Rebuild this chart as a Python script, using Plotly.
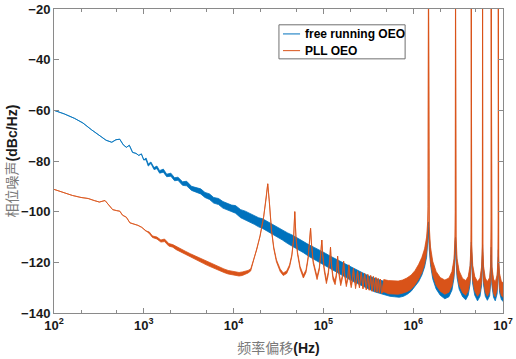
import plotly.graph_objects as go

# ---------------- data ----------------
# Free running OEO: frequency offset (Hz), upper / lower edge of the noisy trace (dBc/Hz)
free_freq = [100, 130, 170, 210, 260, 320, 380, 440, 490, 540, 590, 640, 690, 750, 820, 880, 940,
             1000, 1060, 1120, 1200, 1300, 1400, 1500, 1650, 1800, 2000, 2200, 2400, 2700, 3000,
             3400, 3800, 4300, 4800, 5400, 6000, 6800, 7600, 8500, 9500, 10500, 12000, 13500,
             15000, 17000, 19000, 21000, 24000, 27000, 31000, 35000, 40000, 46000, 52000, 60000,
             70000, 80000, 92000, 105000, 120000, 140000, 160000, 185000, 210000, 240000, 280000,
             320000, 370000, 420000, 480000, 550000, 620000, 700000, 780000, 860000, 950000,
             1050000, 1150000, 1250000, 1340000, 1410000, 1450000, 1480000, 1510000, 1560000,
             1650000, 1800000, 2000000, 2250000, 2500000, 2700000, 2850000, 2930000, 2960000,
             2990000, 3080000, 3250000, 3550000, 3850000, 4100000, 4300000, 4400000, 4440000,
             4480000, 4600000, 4850000, 5200000, 5550000, 5780000, 5880000, 5920000, 5960000,
             6080000, 6350000, 6700000, 7100000, 7300000, 7380000, 7400000, 7430000, 7520000,
             7850000, 8200000, 8600000, 8800000, 8880000, 8950000, 9150000, 9600000, 10000000]
free_upper = [-60.0, -61.4, -63.2, -65.0, -67.6, -70.0, -71.8, -72.6, -71.6, -71.4, -73.6, -74.6,
              -73.8, -76.6, -77.0, -77.8, -77.2, -79.6, -78.8, -81.2, -80.4, -82.6, -82.0, -83.8,
              -83.2, -85.2, -84.8, -86.6, -86.4, -88.2, -88.0, -90.0, -90.6, -91.0, -92.4, -93.0,
              -94.4, -94.8, -96.0, -96.6, -97.4, -97.6, -99.2, -99.8, -100.6, -101.4, -102.4,
              -102.8, -104.0, -104.8, -106.0, -107.2, -108.4, -109.4, -110.6, -111.8, -113.2,
              -114.2, -115.2, -116.4, -117.6, -118.8, -120.0, -121.2, -122.2, -123.2, -124.4,
              -125.4, -126.2, -127.0, -127.6, -128.0, -128.2, -128.2, -127.8, -127.0, -125.8,
              -124.0, -121.6, -118.8, -115.6, -112.0, -108.0, -104.0, -110.0, -116.0, -121.0,
              -125.0, -127.4, -128.4, -127.6, -125.0, -120.0, -114.0, -110.0, -114.0, -120.0,
              -124.6, -127.6, -128.6, -127.0, -122.6, -116.0, -112.0, -116.0, -122.6, -127.0,
              -129.0, -127.6, -123.0, -117.0, -113.0, -117.0, -123.0, -127.6, -129.0, -127.4,
              -122.0, -118.0, -114.0, -118.0, -123.0, -128.0, -129.2, -126.4, -120.0, -115.0,
              -120.0, -125.8, -129.0, -129.6]
free_lower = [-60.0, -61.4, -63.2, -65.0, -67.6, -70.0, -71.8, -72.6, -71.6, -71.4, -73.6, -74.6,
              -73.8, -76.6, -77.0, -77.8, -77.2, -79.6, -79.5, -82.0, -81.0, -83.4, -83.0, -84.8,
              -84.4, -86.2, -86.0, -87.8, -87.6, -89.6, -89.8, -91.6, -92.2, -93.0, -94.4, -95.2,
              -96.6, -97.2, -98.6, -99.4, -100.2, -100.6, -102.4, -103.2, -104.0, -105.0, -106.0,
              -106.6, -107.8, -108.8, -110.0, -111.2, -112.6, -113.8, -115.0, -116.2, -117.8,
              -119.0, -120.2, -121.4, -122.6, -124.0, -125.2, -126.4, -127.4, -128.4, -129.6,
              -130.6, -131.6, -132.2, -132.8, -133.4, -133.6, -133.8, -133.4, -132.6, -131.4,
              -129.6, -127.6, -125.0, -121.8, -118.0, -113.0, -108.0, -115.0, -121.0, -126.5,
              -130.5, -133.0, -134.4, -133.6, -131.0, -126.0, -119.0, -113.0, -119.0, -126.0,
              -130.6, -133.6, -134.8, -133.0, -128.6, -121.0, -115.0, -121.0, -128.6, -133.0,
              -135.2, -133.4, -129.0, -122.0, -116.0, -122.0, -129.0, -133.4, -135.0, -133.2,
              -128.0, -122.0, -117.0, -122.0, -129.0, -133.8, -135.2, -132.4, -125.0, -118.0,
              -125.0, -131.8, -134.8, -135.4]

# PLL OEO
pll_freq = [100, 130, 160, 200, 240, 280, 320, 370, 410, 450, 500, 540, 580, 640, 700, 780, 860,
            950, 1050, 1150, 1250, 1400, 1550, 1700, 1900, 2100, 2300, 2600, 2900, 3300, 3700,
            4100, 4600, 5100, 5700, 6300, 7000, 7800, 8700, 9600, 10500, 11500, 12500, 13500,
            14500, 15500, 16600, 18100, 19700, 21600, 23000, 24000, 25000, 26400, 28000, 30000,
            33000, 35700, 39000, 42000, 44500, 46500, 48000, 49500, 51500, 55000, 59800, 64000,
            67500, 70500, 72000, 73500, 77000, 85000, 90000, 93500, 96000, 98500, 102000, 108000,
            113000, 117500, 120000, 122500, 128000, 135000, 140000, 144000, 148000, 156000,
            163000, 168000, 172000, 180000, 187000, 192000, 197000, 204000, 211000, 216000,
            221000, 228000, 235000, 240000, 252000, 264000, 276000, 288000, 300000, 312000,
            324000, 336000, 348000, 360000, 372000, 384000, 396000, 408000, 420000, 432000,
            444000, 470000, 530000, 600000, 680000, 760000, 850000, 950000, 1050000, 1150000,
            1250000, 1340000, 1410000, 1450000, 1465000, 1480000, 1495000, 1510000, 1560000,
            1650000, 1800000, 2000000, 2250000, 2500000, 2700000, 2850000, 2920000, 2945000,
            2960000, 2975000, 3000000, 3080000, 3250000, 3550000, 3850000, 4100000, 4300000,
            4400000, 4425000, 4440000, 4455000, 4480000, 4600000, 4850000, 5200000, 5550000,
            5780000, 5880000, 5900000, 5920000, 5940000, 5960000, 6080000, 6350000, 6700000,
            7100000, 7300000, 7370000, 7385000, 7400000, 7415000, 7430000, 7520000, 7850000,
            8200000, 8600000, 8800000, 8860000, 8880000, 8900000, 8950000, 9150000, 9600000,
            10000000]
pll_upper = [-91.2, -92.6, -93.6, -94.4, -94.8, -95.6, -96.2, -95.6, -97.6, -99.2, -99.6, -99.8,
             -101.4, -102.2, -104.4, -104.8, -105.4, -106.2, -107.6, -108.0, -109.6, -110.0,
             -111.2, -110.8, -112.6, -113.0, -113.8, -114.6, -115.6, -116.6, -117.4, -118.0,
             -119.0, -119.8, -120.6, -121.2, -122.0, -122.6, -123.2, -123.4, -123.8, -124.0,
             -123.8, -123.6, -123.2, -122.6, -119.0, -115.0, -109.5, -102.0, -95.0, -89.0, -96.0,
             -107.0, -114.0, -119.0, -122.6, -124.2, -123.4, -121.0, -117.0, -111.0, -100.0,
             -110.0, -116.0, -121.6, -125.0, -123.0, -118.0, -112.0, -106.6, -112.0, -119.5,
             -125.6, -122.0, -116.0, -111.2, -117.0, -122.0, -127.0, -124.0, -119.0, -114.0,
             -120.0, -125.5, -127.4, -124.0, -117.6, -123.0, -127.8, -125.0, -119.6, -124.0,
             -128.2, -125.5, -121.0, -125.5, -128.8, -126.0, -122.4, -126.0, -129.4, -126.2,
             -123.4, -130.0, -124.0, -130.4, -124.4, -130.8, -124.8, -131.0, -125.2, -131.4,
             -125.6, -131.6, -126.0, -131.8, -126.4, -132.0, -126.6, -132.2, -126.8, -127.2,
             -127.4, -127.4, -127.0, -126.2, -125.0, -123.2, -120.8, -118.0, -114.6, -110.0,
             -104.0, -98.0, -5.0, -98.0, -106.0, -114.0, -119.6, -123.6, -126.0, -127.0, -126.2,
             -123.6, -118.6, -110.0, -100.0, -5.0, -100.0, -110.0, -118.6, -123.4, -126.4,
             -127.2, -125.6, -121.2, -113.0, -101.0, -5.0, -101.0, -113.0, -121.2, -125.6,
             -127.6, -126.2, -121.6, -114.0, -102.0, -5.0, -102.0, -114.0, -121.6, -126.2,
             -127.6, -126.0, -120.6, -112.0, -102.0, -5.0, -102.0, -112.0, -121.6, -126.6,
             -127.8, -125.0, -118.6, -103.0, -5.0, -103.0, -118.6, -124.4, -127.6, -128.0]
pll_lower = [-91.2, -92.6, -93.6, -94.4, -94.8, -95.6, -96.2, -95.6, -97.6, -99.2, -99.6, -99.8,
             -101.4, -102.2, -104.4, -104.8, -105.4, -106.2, -107.6, -108.6, -110.2, -110.8,
             -112.0, -111.8, -113.6, -114.0, -115.0, -115.8, -116.8, -117.8, -118.6, -119.4,
             -120.4, -121.2, -122.0, -122.6, -123.4, -124.0, -124.6, -124.8, -125.2, -125.4,
             -125.2, -124.8, -124.2, -123.4, -119.6, -115.4, -109.8, -102.2, -95.2, -89.0, -96.2,
             -107.4, -114.6, -119.8, -123.6, -125.2, -124.4, -121.8, -117.6, -111.4, -100.0,
             -110.4, -116.8, -122.6, -126.2, -124.0, -118.8, -112.4, -106.6, -112.4, -120.4,
             -126.8, -123.0, -116.8, -111.2, -117.8, -123.2, -128.4, -125.2, -119.8, -114.0,
             -120.8, -126.8, -128.8, -125.2, -117.6, -124.2, -129.2, -126.2, -119.6, -125.2,
             -129.6, -126.8, -121.0, -126.8, -130.0, -127.2, -122.4, -127.4, -130.4, -127.4,
             -123.4, -130.0, -124.0, -130.4, -124.4, -130.8, -124.8, -131.0, -125.2, -131.4,
             -125.6, -131.6, -126.0, -131.8, -126.4, -132.0, -126.6, -132.2, -131.6, -132.4,
             -132.6, -132.6, -132.2, -131.6, -130.6, -128.8, -126.6, -124.0, -120.6, -116.0,
             -110.0, -104.0, -5.0, -104.0, -112.0, -119.6, -125.0, -129.0, -131.4, -132.6, -131.8,
             -129.2, -124.4, -116.0, -106.0, -5.0, -106.0, -116.0, -124.4, -129.0, -132.0,
             -133.0, -131.2, -127.0, -119.0, -107.0, -5.0, -107.0, -119.0, -127.0, -131.4,
             -133.4, -131.8, -127.4, -120.0, -108.0, -5.0, -108.0, -120.0, -127.4, -131.8,
             -133.4, -131.6, -126.4, -118.0, -108.0, -5.0, -108.0, -118.0, -127.4, -132.2,
             -133.6, -130.8, -124.4, -109.0, -5.0, -109.0, -124.4, -130.2, -133.2, -133.8]

series_names = ["free running OEO", "PLL OEO"]
series_colors = ["#0072BD", "#D95319"]

x_tick_values = [1e2, 1e3, 1e4, 1e5, 1e6, 1e7]
x_tick_labels = ["10<sup>2</sup>", "10<sup>3</sup>", "10<sup>4</sup>", "10<sup>5</sup>",
                 "10<sup>6</sup>", "10<sup>7</sup>"]
y_tick_values = [-140, -120, -100, -80, -60, -40, -20]

# ---------------- figure ----------------
fig = go.Figure()

for (name, color, fx, up, lo) in [
    (series_names[0], series_colors[0], free_freq, free_upper, free_lower),
    (series_names[1], series_colors[1], pll_freq, pll_upper, pll_lower),
]:
    fig.add_trace(go.Scatter(x=fx, y=lo, mode="lines", line=dict(color=color, width=0.8),
                             showlegend=False, hoverinfo="skip", name=name))
    fig.add_trace(go.Scatter(x=fx, y=up, mode="lines", line=dict(color=color, width=0.8),
                             fill="tonexty", fillcolor=color, showlegend=False,
                             hoverinfo="skip", name=name))

# ---- legend box drawn in paper coordinates (MATLAB style) ----
leg_x0, leg_x1, leg_y0, leg_y1 = 0.501, 0.782, 0.836, 0.948
leg_rows_y = [0.918, 0.863]
shapes = [dict(type="rect", xref="paper", yref="paper", x0=leg_x0, x1=leg_x1, y0=leg_y0, y1=leg_y1,
               line=dict(color="#707070", width=1), fillcolor="white", layer="above")]
annotations = []
for name, color, ry in zip(series_names, series_colors, leg_rows_y):
    shapes.append(dict(type="line", xref="paper", yref="paper", x0=0.510, x1=0.548, y0=ry, y1=ry,
                       line=dict(color=color, width=1), layer="above"))
    annotations.append(dict(xref="paper", yref="paper", x=0.554, y=ry, xanchor="left",
                            yanchor="middle", text=name, showarrow=False,
                            font=dict(size=12, weight="bold", color="#000")))

axis_color = "#8a8a8a"
fig.update_layout(
    width=516, height=359,
    margin=dict(l=54, r=13, t=9, b=46),
    paper_bgcolor="white", plot_bgcolor="white",
    font=dict(family="Arial, Liberation Sans, Noto Sans CJK SC", color="#1a1a1a"),
    showlegend=False,
    shapes=shapes, annotations=annotations,
)
fig.update_xaxes(
    type="log", range=[2, 7], tickvals=x_tick_values, ticktext=x_tick_labels, automargin=False,
    showgrid=False, zeroline=False, showline=True, linecolor=axis_color, linewidth=1,
    mirror="allticks", ticks="inside", ticklen=5, tickcolor=axis_color,
    tickfont=dict(size=13, weight="bold", color="#1a1a1a"),
    minor=dict(ticks="inside", ticklen=3, tickcolor=axis_color, showgrid=False),
    title=dict(text="<span style='color:#7a7a7a'>频率偏移</span><b>(Hz)</b>",
               font=dict(size=14, color="#1a1a1a"), standoff=11),
)
fig.update_yaxes(
    range=[-140, -20], tickvals=y_tick_values, automargin=False,
    showgrid=False, zeroline=False, showline=True, linecolor=axis_color, linewidth=1,
    mirror="allticks", ticks="inside", ticklen=5, tickcolor=axis_color,
    tickfont=dict(size=13, weight="bold", color="#1a1a1a"),
    title=dict(text="<span style='color:#7a7a7a'>相位噪声</span><b>(dBc/Hz)</b>",
               font=dict(size=14, color="#1a1a1a"), standoff=0),
)

# remove the browser's default 8px page margin so the figure fills the window exactly
fig.write_html("out.html", config={"displayModeBar": False},
               post_script="document.body.style.margin='0';")
